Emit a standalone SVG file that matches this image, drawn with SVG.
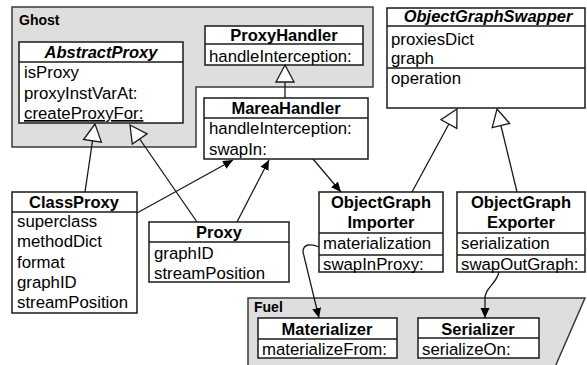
<svg xmlns="http://www.w3.org/2000/svg" width="587" height="365" viewBox="0 0 587 365">
<style>
.pkg{fill:#dedede;stroke:#3a3a3a;stroke-width:1.5}
.box{fill:#fff;stroke:#1a1a1a;stroke-width:1.5}
.sep{stroke:#1a1a1a;stroke-width:1.5}
.t{font-family:"Liberation Sans",Arial,sans-serif;font-size:16.8px;fill:#000}
.b{font-weight:bold;text-anchor:middle;font-size:16.5px}
.i{font-style:italic}
.pl{font-family:"Liberation Sans",Arial,sans-serif;font-size:14px;font-weight:bold;fill:#000}
.ln{fill:none;stroke:#1a1a1a;stroke-width:1.3}
.tri{fill:#fff;stroke:#1a1a1a;stroke-width:1.3}
</style>
<defs>
<marker id="arr" viewBox="0 0 10 10" refX="10" refY="5" markerWidth="10" markerHeight="10" markerUnits="userSpaceOnUse" orient="auto">
<path d="M0,0.5 L10,5 L0,9.5 Z" fill="#000"/>
</marker>
</defs>
<g id="Ghost">
<polygon class="pkg" points="12,7 373,7 373,87 196,87 196,147 12,147"/>
<text class="pl" x="19" y="25">Ghost</text>
</g>
<g id="Fuel">
<polygon class="pkg" points="248,298 585,298 555,367 248,367"/>
<text class="pl" x="254" y="312">Fuel</text>
</g>
<g id="AbstractProxy">
<rect class="box" x="19" y="42" width="164" height="81"/>
<line class="sep" x1="19" y1="62" x2="183" y2="62"/>
<text class="t b i" x="101" y="58">AbstractProxy</text>
<text class="t" x="24" y="78">isProxy</text>
<text class="t" x="24" y="99">proxyInstVarAt:</text>
<text class="t" x="24" y="119" text-decoration="underline">createProxyFor:</text>
</g>
<g id="ProxyHandler">
<rect class="box" x="205" y="26" width="158" height="39"/>
<line class="sep" x1="205" y1="44" x2="363" y2="44"/>
<text class="t b" x="284" y="41">ProxyHandler</text>
<text class="t" x="209" y="62">handleInterception:</text>
</g>
<g id="MareaHandler">
<rect class="box" x="204" y="98" width="164" height="61"/>
<line class="sep" x1="204" y1="118" x2="368" y2="118"/>
<text class="t b" x="286" y="114">MareaHandler</text>
<text class="t" x="209" y="134">handleInterception:</text>
<text class="t" x="209" y="155">swapIn:</text>
</g>
<g id="ObjectGraphSwapper">
<rect class="box" x="387" y="8" width="198" height="100"/>
<line class="sep" x1="387" y1="26" x2="585" y2="26"/>
<line class="sep" x1="387" y1="68" x2="585" y2="68"/>
<text class="t b i" x="488" y="22">ObjectGraphSwapper</text>
<text class="t" x="391" y="45">proxiesDict</text>
<text class="t" x="391" y="64">graph</text>
<text class="t" x="391" y="84">operation</text>
</g>
<g id="ClassProxy">
<rect class="box" x="12" y="192" width="125" height="121"/>
<line class="sep" x1="12" y1="212" x2="137" y2="212"/>
<text class="t b" x="74" y="208">ClassProxy</text>
<text class="t" x="17" y="227">superclass</text>
<text class="t" x="17" y="247">methodDict</text>
<text class="t" x="17" y="268">format</text>
<text class="t" x="17" y="288">graphID</text>
<text class="t" x="17" y="308">streamPosition</text>
</g>
<g id="Proxy">
<rect class="box" x="149" y="222" width="140" height="60"/>
<line class="sep" x1="149" y1="242" x2="289" y2="242"/>
<text class="t b" x="219" y="238">Proxy</text>
<text class="t" x="154" y="259">graphID</text>
<text class="t" x="154" y="279">streamPosition</text>
</g>
<g id="ObjectGraphImporter">
<rect class="box" x="319" y="192" width="124" height="80"/>
<line class="sep" x1="319" y1="233" x2="443" y2="233"/>
<line class="sep" x1="319" y1="255" x2="443" y2="255"/>
<text class="t b" x="381" y="208">ObjectGraph</text>
<text class="t b" x="381" y="228">Importer</text>
<text class="t" x="323" y="249">materialization</text>
<text class="t" x="323" y="270">swapInProxy:</text>
</g>
<g id="ObjectGraphExporter">
<rect class="box" x="457" y="192" width="128" height="80"/>
<line class="sep" x1="457" y1="233" x2="585" y2="233"/>
<line class="sep" x1="457" y1="255" x2="585" y2="255"/>
<text class="t b" x="521" y="208">ObjectGraph</text>
<text class="t b" x="521" y="228">Exporter</text>
<text class="t" x="461" y="249">serialization</text>
<text class="t" x="461" y="270">swapOutGraph:</text>
</g>
<g id="Materializer">
<rect class="box" x="258" y="318" width="139" height="40"/>
<line class="sep" x1="258" y1="339" x2="397" y2="339"/>
<text class="t b" x="327" y="335">Materializer</text>
<text class="t" x="262" y="355">materializeFrom:</text>
</g>
<g id="Serializer">
<rect class="box" x="418" y="318" width="121" height="40"/>
<line class="sep" x1="418" y1="338" x2="539" y2="338"/>
<text class="t b" x="478" y="335">Serializer</text>
<text class="t" x="422" y="355">serializeOn:</text>
</g>
<g id="connectors">
<line class="ln" x1="285" y1="98" x2="285" y2="82"/>
<polygon class="tri" points="285,65 276,82 294,82"/>
<line class="ln" x1="85" y1="192" x2="92.5" y2="140.8"/>
<polygon class="tri" points="95,124 83.6,139.5 101.4,142.1"/>
<line class="ln" x1="197" y1="222" x2="139.7" y2="139"/>
<polygon class="tri" points="130,125 147.1,133.9 132.3,144.1"/>
<line class="ln" x1="412" y1="192" x2="448.9" y2="124"/>
<polygon class="tri" points="457,109 456.8,128.3 441,119.7"/>
<line class="ln" x1="517" y1="192" x2="500.9" y2="125.5"/>
<polygon class="tri" points="497,109 509.7,123.5 492.2,127.6"/>
<line class="ln" x1="137" y1="213" x2="233" y2="160" marker-end="url(#arr)"/>
<line class="ln" x1="237" y1="222" x2="269" y2="160" marker-end="url(#arr)"/>
<line class="ln" x1="313" y1="159" x2="341" y2="192" marker-end="url(#arr)"/>
<path class="ln" d="M319,247 C312,244 303,243 303,252 L319,318" marker-end="url(#arr)"/>
<path class="ln" d="M499,272 C496,285 484,288 485,300 L485,318" marker-end="url(#arr)"/>
</g>
</svg>
